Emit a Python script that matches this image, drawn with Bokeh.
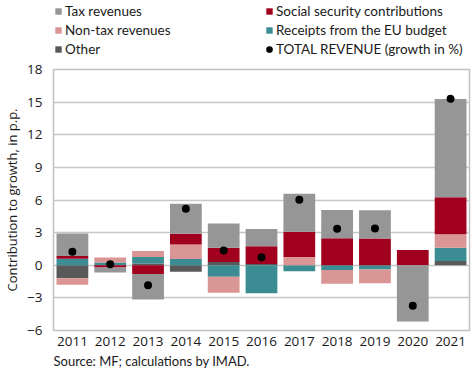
from bokeh.plotting import figure
from bokeh.layouts import column
from bokeh.models import ColumnDataSource, FactorRange, Range1d, FixedTicker, Legend, LegendItem, Title
from bokeh.embed import file_html
from bokeh.resources import INLINE

years = ["2011", "2012", "2013", "2014", "2015", "2016", "2017", "2018", "2019", "2020", "2021"]
tax = [2.08, -0.46, -2.35, 2.75, 2.24, 1.59, 3.49, 2.60, 2.60, -5.17, 9.02]
social = [0.25, -0.20, -0.80, 1.00, 1.31, 1.62, 2.32, 2.48, 2.45, 1.40, 3.42]
nontax = [-0.60, 0.46, 0.55, 1.32, -1.47, 0.00, 0.76, -1.26, -1.25, 0.00, 1.23]
eu = [0.60, 0.25, 0.60, 0.58, -1.05, -2.57, -0.55, -0.43, -0.40, 0.00, 1.22]
other = [-1.20, 0.00, 0.15, -0.60, 0.30, 0.12, 0.00, 0.00, 0.00, 0.00, 0.39]
total = [1.25, 0.10, -1.83, 5.20, 1.35, 0.73, 6.02, 3.36, 3.38, -3.73, 15.30]
y_ticks = [-6, -3, 0, 3, 6, 9, 12, 15, 18]

series = [
    ("Other", other, "#595959"),
    ("Receipts from the EU budget", eu, "#3C8C93"),
    ("Non-tax revenues", nontax, "#DA9694"),
    ("Social security contributions", social, "#A0001E"),
    ("Tax revenues", tax, "#969696"),
]
legend_order = ["Tax revenues", "Non-tax revenues", "Other",
                "Social security contributions", "Receipts from the EU budget"]
total_label = "TOTAL REVENUE (growth in %)"

FONT = "Open Sans"
LFONT = "Lato"
TXT = "#1a1a1a"
DOT = dict(size=4.5, line_width=3.5, fill_color="black", line_color="black")

# ---- main chart ----
p = figure(width=475, height=317, x_range=FactorRange(factors=years, range_padding=0),
           y_range=Range1d(-6, 18), output_backend="svg", toolbar_location=None,
           min_border_left=53, min_border_right=6, min_border_top=9, min_border_bottom=47)

pos = [0.0] * len(years)
neg = [0.0] * len(years)
stacks = {}
for name, vals, color in series:
    bottoms, tops = [], []
    for i, v in enumerate(vals):
        if v >= 0:
            bottoms.append(pos[i]); tops.append(pos[i] + v); pos[i] += v
        else:
            tops.append(neg[i]); bottoms.append(neg[i] + v); neg[i] += v
    stacks[name] = dict(x=years, top=tops, bottom=bottoms)
    p.vbar(x="x", top="top", bottom="bottom", width=0.84, source=ColumnDataSource(stacks[name]),
           fill_color=color, line_color=None)

p.scatter(x=years, y=total, **DOT)

p.outline_line_color = "#C0C0C0"
p.outline_line_width = 1.5
p.xgrid.grid_line_color = None
p.ygrid.grid_line_color = "#C8C8C8"
p.ygrid.grid_line_width = 1.5
p.yaxis.ticker = FixedTicker(ticks=y_ticks)
for ax in (p.xaxis[0], p.yaxis[0]):
    ax.axis_line_color = None
    ax.major_tick_line_color = None
    ax.minor_tick_line_color = None
    ax.major_tick_out = 0
    ax.major_tick_in = 0
    ax.minor_tick_out = 0
    ax.minor_tick_in = 0
    ax.major_label_text_font = FONT
    ax.major_label_text_font_size = "13.5px"
    ax.major_label_text_color = TXT
p.yaxis.major_label_standoff = 11
p.xaxis.major_label_standoff = 6
p.yaxis.axis_label = "Contribution to growth, in p.p."
p.yaxis.axis_label_text_font = FONT
p.yaxis.axis_label_text_font_size = "13px"
p.yaxis.axis_label_text_font_style = "normal"
p.yaxis.axis_label_text_color = TXT
p.yaxis.axis_label_standoff = 3

p.add_layout(Title(text="Source: MF; calculations by IMAD.", align="left", standoff=4,
                   text_font=LFONT, text_font_size="13px", text_font_style="normal",
                   text_color=TXT), "below")

# ---- legend strip: same series, but its value range lies far above the data,
# so only the legend keys are visible here ----
lg = figure(width=475, height=60, x_range=FactorRange(factors=years, range_padding=0),
            y_range=Range1d(1000, 1001), x_axis_type=None, y_axis_type=None,
            output_backend="svg", toolbar_location=None,
            min_border_left=53, min_border_right=6, min_border_top=0, min_border_bottom=0,
            outline_line_color=None)
lg.grid.visible = False
color_of = {name: color for name, _, color in series}
items = []
for name in legend_order:
    r = lg.vbar(x="x", top="top", bottom="bottom", width=0.84,
                source=ColumnDataSource(stacks[name]),
                fill_color=color_of[name], line_color=None)
    items.append(LegendItem(label=name, renderers=[r]))
rd = lg.scatter(x=years, y=total, **DOT)
items.append(LegendItem(label=total_label, renderers=[rd]))

legend = Legend(items=items, location=(1, 3), orientation="vertical", nrows=3,
                glyph_width=8, glyph_height=8, label_height=14, label_width=197, spacing=3,
                label_standoff=3, padding=0, margin=0, border_line_color=None,
                background_fill_alpha=0, label_text_font=LFONT,
                label_text_font_size="13.5px", label_text_color=TXT)
lg.add_layout(legend, "center")

layout = column(lg, p, spacing=0)
open("out.html", "w").write(file_html(layout, INLINE))
